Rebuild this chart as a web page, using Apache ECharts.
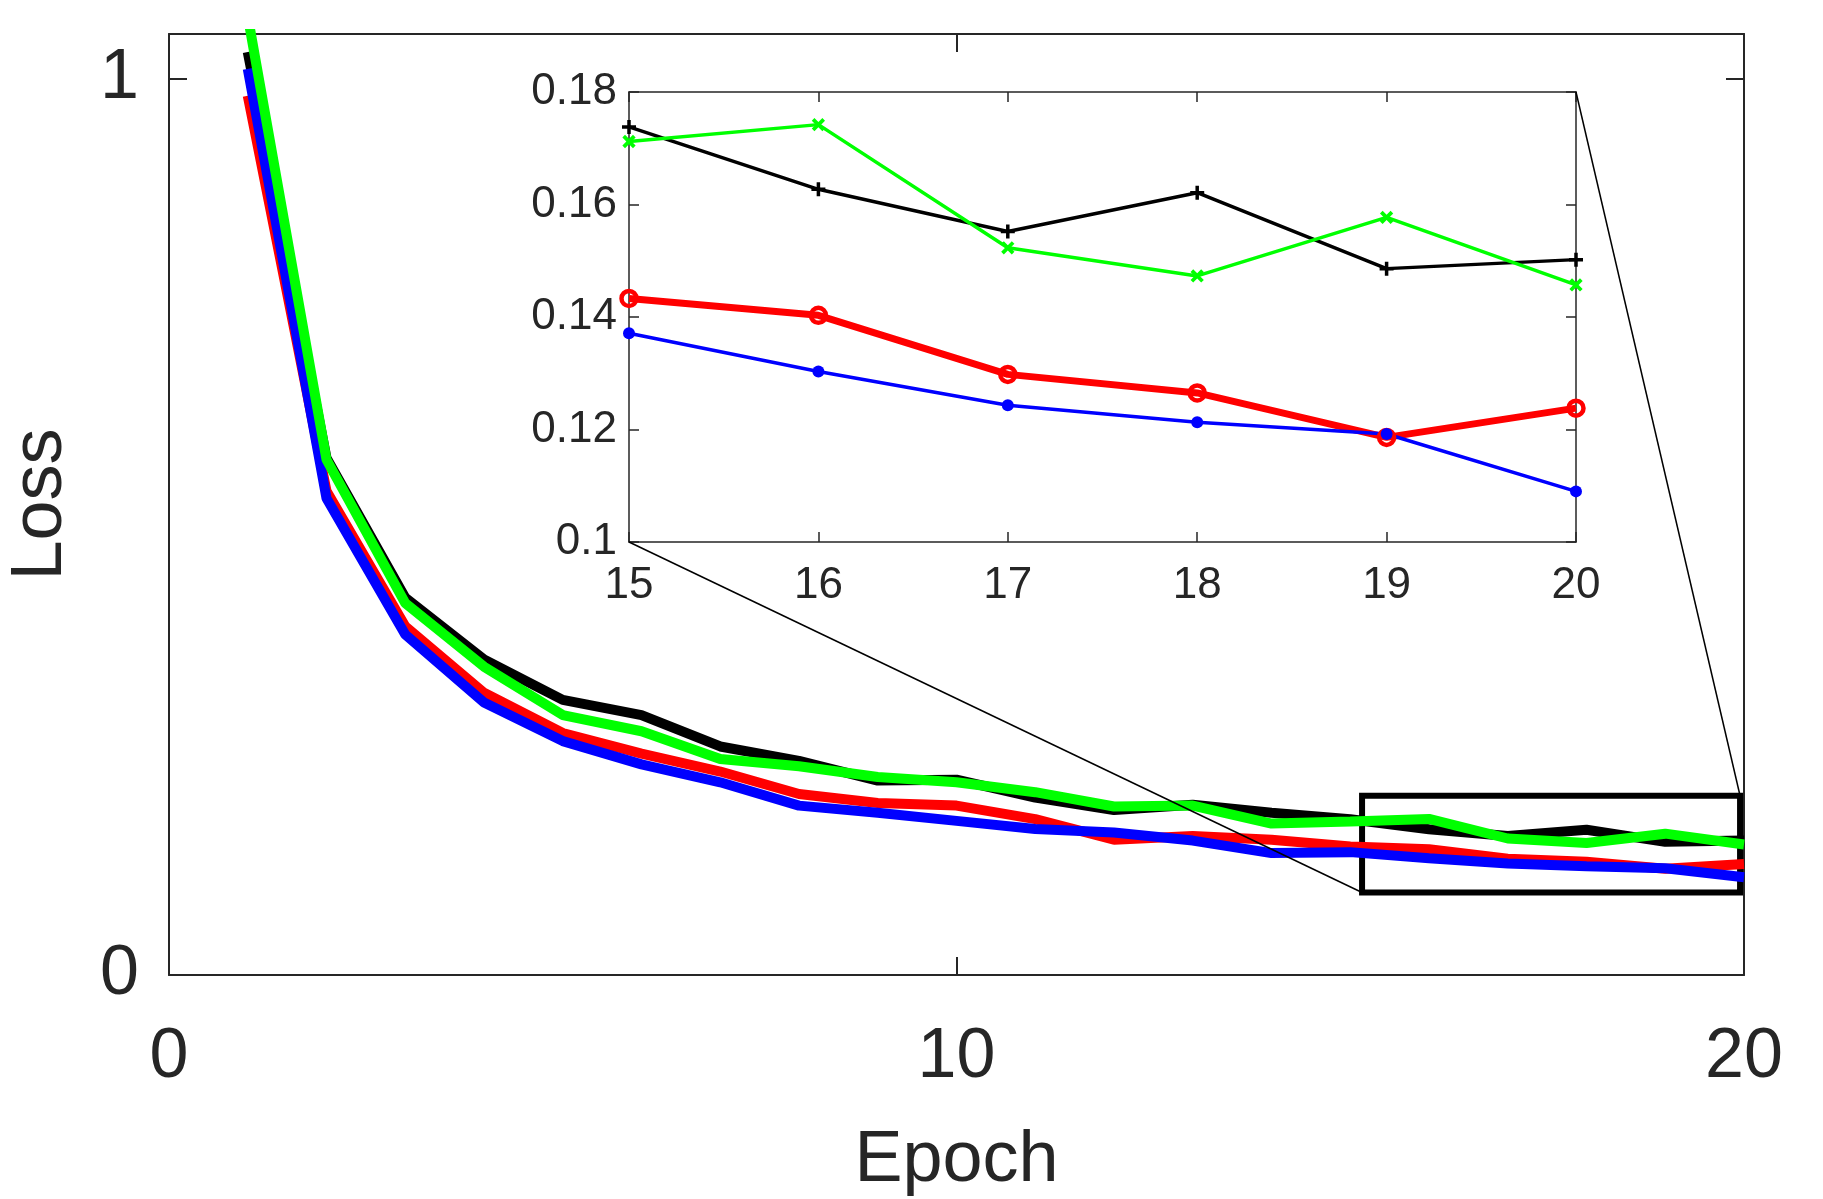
<!DOCTYPE html>
<html>
<head>
<meta charset="utf-8">
<script src="https://cdn.jsdelivr.net/npm/echarts@6/dist/echarts.min.js"></script>
<style>
  html, body { margin: 0; padding: 0; background: #fff; }
  #chart { width: 1823px; height: 1199px; }
</style>
</head>
<body>
<div id="chart"></div>
<script>
// epochs 1..20
var epochs = [1, 2, 3, 4, 5, 6, 7, 8, 9, 10, 11, 12, 13, 14, 15, 16, 17, 18, 19, 20];
var lossBlack = [1.03, 0.577, 0.421, 0.352, 0.307, 0.290, 0.255, 0.239, 0.217, 0.218, 0.198, 0.184, 0.190, 0.181, 0.1738, 0.1627, 0.1552, 0.1621, 0.1486, 0.1502];
var lossRed   = [0.981, 0.540, 0.389, 0.315, 0.270, 0.247, 0.227, 0.202, 0.192, 0.189, 0.174, 0.151, 0.155, 0.151, 0.1433, 0.1403, 0.1298, 0.1265, 0.1186, 0.1238];
var lossBlue  = [1.011, 0.532, 0.380, 0.304, 0.261, 0.235, 0.215, 0.189, 0.181, 0.172, 0.163, 0.159, 0.150, 0.136, 0.1371, 0.1303, 0.1243, 0.1213, 0.1192, 0.1090];
var lossGreen = [1.07, 0.575, 0.415, 0.344, 0.290, 0.272, 0.241, 0.233, 0.221, 0.215, 0.204, 0.188, 0.189, 0.169, 0.1712, 0.1742, 0.1523, 0.1473, 0.1577, 0.1457];

var mainXTicks = [0, 10, 20];
var mainYTicks = [0, 1];
// zoom box drawn on the main plot, and the range shown in the inset
var zoomBox = [15.15, 0.092, 19.95, 0.2];
var insetFrom = 15;

var font = "'Liberation Sans', Arial, sans-serif";
var txt = '#262626';
var plusPath = 'path://M-2.5,-10 H2.5 V-2.5 H10 V2.5 H2.5 V10 H-2.5 V2.5 H-10 V-2.5 H-2.5 Z';

function pairs(ys, from) {
    var out = [];
    for (var i = 0; i < epochs.length; i++) {
        if (from == null || epochs[i] >= from) out.push([epochs[i], ys[i]]);
    }
    return out;
}

var myChart = echarts.init(document.getElementById('chart'));

function boxAxis(grid, pos, len, extra) {
    var a = {
        type: 'value',
        gridIndex: grid,
        position: pos,
        axisLine: { show: true, onZero: false, lineStyle: { color: txt, width: grid === 0 ? 2 : 1.5 } },
        axisTick: { show: true, inside: true, length: len, lineStyle: { color: txt, width: grid === 0 ? 2 : 1.5 } },
        axisLabel: { show: false },
        splitLine: { show: false }
    };
    for (var k in extra) a[k] = extra[k];
    return a;
}

var option = {
    animation: false,
    backgroundColor: '#fff',
    grid: [
        { left: 169, top: 34, right: 79, bottom: 224, outerBoundsMode: 'none' },
        { left: 629, top: 92, width: 947, height: 450, outerBoundsMode: 'none',
          show: true, backgroundColor: '#fff', borderWidth: 0 }
    ],
    xAxis: [
        boxAxis(0, 'bottom', 18, {
            min: 0, max: 20,
            axisTick: { show: true, inside: true, length: 18, customValues: mainXTicks, lineStyle: { color: txt, width: 2 } },
            axisLabel: { show: true, customValues: mainXTicks, margin: 48, color: txt, fontSize: 70, fontFamily: font },
            name: 'Epoch', nameLocation: 'middle', nameGap: 150,
            nameTextStyle: { color: txt, fontSize: 72, fontFamily: font }
        }),
        boxAxis(0, 'top', 18, {
            min: 0, max: 20,
            axisTick: { show: true, inside: true, length: 18, customValues: mainXTicks, lineStyle: { color: txt, width: 2 } }
        }),
        boxAxis(1, 'bottom', 10, {
            min: 15, max: 20, interval: 1,
            axisLabel: { show: true, margin: 22, color: txt, fontSize: 44, fontFamily: font }
        }),
        boxAxis(1, 'top', 10, { min: 15, max: 20, interval: 1 })
    ],
    yAxis: [
        boxAxis(0, 'left', 18, {
            min: 0, max: 1.05,
            axisTick: { show: true, inside: true, length: 18, customValues: mainYTicks, lineStyle: { color: txt, width: 2 } },
            axisLabel: { show: true, customValues: mainYTicks, margin: 30, color: txt, fontSize: 70, fontFamily: font },
            name: 'Loss', nameLocation: 'middle', nameGap: 92, nameRotate: 90,
            nameTextStyle: { color: txt, fontSize: 72, fontFamily: font }
        }),
        boxAxis(0, 'right', 18, {
            min: 0, max: 1.05,
            axisTick: { show: true, inside: true, length: 18, customValues: mainYTicks, lineStyle: { color: txt, width: 2 } }
        }),
        boxAxis(1, 'left', 10, {
            min: 0.1, max: 0.18, interval: 0.02,
            axisLabel: {
                show: true, margin: 12, color: txt, fontSize: 44, fontFamily: font,
                formatter: function (v) { return String(+v.toFixed(2)); }
            }
        }),
        boxAxis(1, 'right', 10, { min: 0.1, max: 0.18, interval: 0.02 })
    ],
    series: [
        // main plot
        { type: 'line', xAxisIndex: 0, yAxisIndex: 0, data: pairs(lossBlack), showSymbol: false, symbol: 'none',
          lineStyle: { color: '#000', width: 10 }, z: 2 },
        { type: 'line', xAxisIndex: 0, yAxisIndex: 0, data: pairs(lossRed), showSymbol: false, symbol: 'none',
          lineStyle: { color: '#ff0000', width: 10 }, z: 2 },
        { type: 'line', xAxisIndex: 0, yAxisIndex: 0, data: pairs(lossBlue), showSymbol: false, symbol: 'none',
          lineStyle: { color: '#0000ff', width: 10 }, z: 2 },
        { type: 'line', xAxisIndex: 0, yAxisIndex: 0, data: pairs(lossGreen), showSymbol: false, symbol: 'none',
          lineStyle: { color: '#00ff00', width: 10 }, z: 2,
          markArea: {
              silent: true,
              itemStyle: { color: 'rgba(0,0,0,0)', borderColor: '#000', borderWidth: 6 },
              data: [[{ xAxis: zoomBox[0], yAxis: zoomBox[1] }, { xAxis: zoomBox[2], yAxis: zoomBox[3] }]]
          } },
        // inset
        { type: 'line', xAxisIndex: 2, yAxisIndex: 2, data: pairs(lossBlack, insetFrom),
          symbol: plusPath, symbolSize: 14,
          lineStyle: { color: '#000', width: 3.5 }, itemStyle: { color: '#000' }, z: 5 },
        { type: 'line', xAxisIndex: 2, yAxisIndex: 2, data: pairs(lossRed, insetFrom),
          symbol: 'circle', symbolSize: 15,
          lineStyle: { color: '#ff0000', width: 7 },
          itemStyle: { color: 'rgba(0,0,0,0)', borderColor: '#ff0000', borderWidth: 4.5 }, z: 5 },
        { type: 'line', xAxisIndex: 2, yAxisIndex: 2, data: pairs(lossBlue, insetFrom),
          symbol: 'circle', symbolSize: 12,
          lineStyle: { color: '#0000ff', width: 3.5 }, itemStyle: { color: '#0000ff' }, z: 5 },
        { type: 'line', xAxisIndex: 2, yAxisIndex: 2, data: pairs(lossGreen, insetFrom),
          symbol: plusPath, symbolSize: 15, symbolRotate: 45,
          lineStyle: { color: '#00ff00', width: 3.5 }, itemStyle: { color: '#00ff00' }, z: 5 }
    ]
};
myChart.setOption(option);

// connector lines from the inset corners to the zoom box
var a1 = myChart.convertToPixel({ gridIndex: 1 }, [15, 0.1]);
var b1 = myChart.convertToPixel({ gridIndex: 0 }, [zoomBox[0], zoomBox[1]]);
var a2 = myChart.convertToPixel({ gridIndex: 1 }, [20, 0.18]);
var b2 = myChart.convertToPixel({ gridIndex: 0 }, [zoomBox[2], zoomBox[3]]);
myChart.setOption({
    graphic: [
        { type: 'line', z: 10, shape: { x1: a1[0], y1: a1[1], x2: b1[0], y2: b1[1] }, style: { stroke: '#000', lineWidth: 1.5 } },
        { type: 'line', z: 10, shape: { x1: a2[0], y1: a2[1], x2: b2[0], y2: b2[1] }, style: { stroke: '#000', lineWidth: 1.5 } }
    ]
});

window.addEventListener('resize', function () {
    myChart.resize();
});
</script>
</body>
</html>
